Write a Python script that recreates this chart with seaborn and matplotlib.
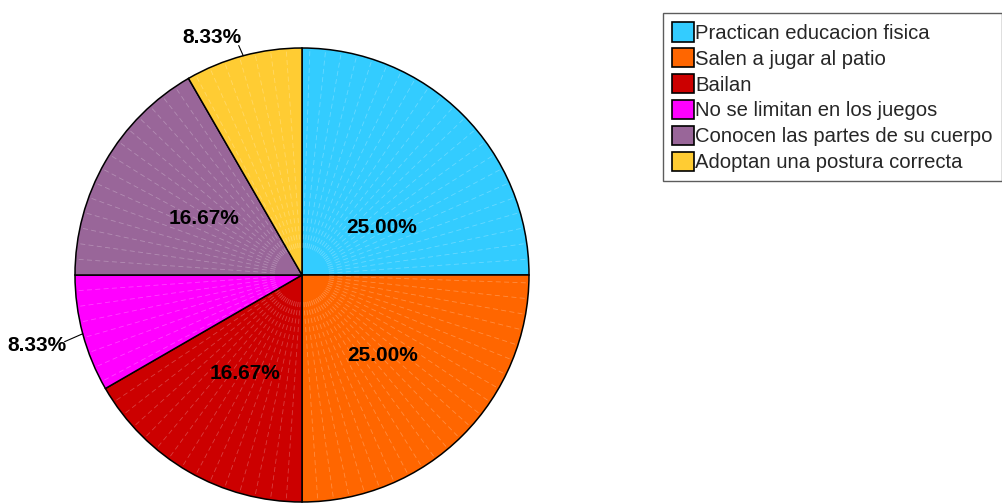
import numpy as np
import matplotlib.pyplot as plt
import seaborn as sns

# --Data
categories = [
    "Practican educacion fisica",
    "Salen a jugar al patio",
    "Bailan",
    "No se limitan en los juegos",
    "Conocen las partes de su cuerpo",
    "Adoptan una postura correcta",
]
values = [3, 3, 2, 1, 2, 1]
colors = ["#33CCFF", "#FF6600", "#CC0000", "#FF00FF", "#996699", "#FFCC33"]

sns.set_theme(style="white")
plt.rcParams["font.family"] = ["Liberation Sans", "DejaVu Sans"]

W, H = 1003, 504
fig = plt.figure(figsize=(W / 100, H / 100), dpi=100)
cx, cy, r = 302, 275, 227
ax = fig.add_axes([(cx - r) / W, (H - cy - r) / H, 2 * r / W, 2 * r / H])

wedges, _ = ax.pie(
    values,
    colors=colors,
    startangle=90,
    counterclock=False,
    radius=1,
    wedgeprops=dict(edgecolor="black", linewidth=1.1),
)
ax.set_xlim(-1, 1)
ax.set_ylim(-1, 1)
ax.set_aspect("equal")
ax.axis("off")

# faint radial facet lines inside each slice
for w in wedges:
    for a in np.arange(w.theta1 + 4, w.theta2 - 1, 4):
        t = np.deg2rad(a)
        ax.plot([0.12 * np.cos(t), np.cos(t)], [0.12 * np.sin(t), np.sin(t)],
                color="white", lw=0.6, alpha=0.25, ls=(0, (6, 4)), zorder=2)

# --labels
total = sum(values)
for i, (w, v) in enumerate(zip(wedges, values)):
    pct = "%.2f%%" % (100 * v / total)
    mid = np.deg2rad((w.theta1 + w.theta2) / 2)
    if v / total > 0.1:
        d = 0.5
        ang = mid
        if i == 0:
            d, ang = 0.41, np.deg2rad(31)
        ax.text(d * np.cos(ang), d * np.sin(ang), pct, ha="center", va="center",
                fontsize=15, fontweight="bold", color="black", zorder=5)
    else:
        ex, ey = np.cos(mid), np.sin(mid)
        if ey > 0:
            tx, ty = ex - 0.14, ey + 0.08
            lx, ly = ex - 0.02, ey + 0.045
        else:
            tx, ty = ex - 0.2, ey - 0.05
            lx, ly = ex - 0.08, ey - 0.035
        ax.plot([ex, lx], [ey, ly], color="black", lw=0.8, clip_on=False)
        ax.text(tx, ty, pct, ha="center", va="center", fontsize=15,
                fontweight="bold", color="black", clip_on=False)

leg = fig.legend(
    wedges,
    categories,
    loc="upper left",
    bbox_to_anchor=(663 / W, 1 - 13 / H),
    fontsize=14.6,
    frameon=True,
    fancybox=False,
    shadow=False,
    handlelength=1.1,
    handleheight=1.1,
    handletextpad=0.05,
    labelspacing=0.26,
    borderpad=0.45,
    borderaxespad=0,
)
leg.get_frame().set_edgecolor("#333333")
leg.get_frame().set_linewidth(1.0)
for h in leg.legend_handles:
    h.set_edgecolor("black")
    h.set_linewidth(1.2)

fig.savefig("out.png", dpi=100)
